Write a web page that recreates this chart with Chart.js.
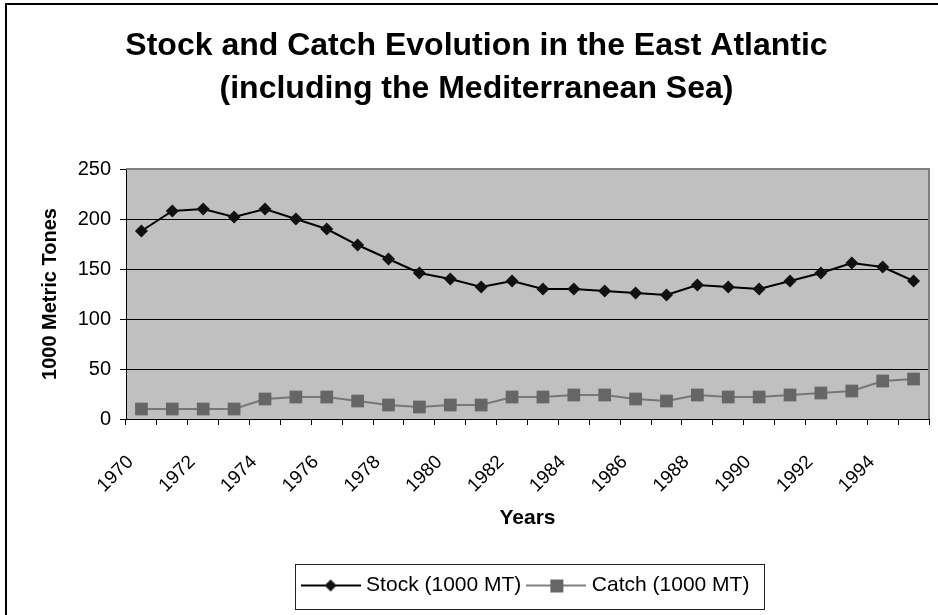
<!DOCTYPE html>
<html>
<head>
<meta charset="utf-8">
<script src="https://cdn.jsdelivr.net/npm/chart.js@4/dist/chart.umd.min.js"></script>
<style>
  html, body { margin: 0; padding: 0; background: #fff; }
  #wrap { width: 938px; height: 615px; }
</style>
</head>
<body>
<div id="wrap"><canvas id="stockChart" width="938" height="615"></canvas></div>
<script>
const years = ["1970", "1971", "1972", "1973", "1974", "1975", "1976", "1977", "1978", "1979",
  "1980", "1981", "1982", "1983", "1984", "1985", "1986", "1987", "1988", "1989",
  "1990", "1991", "1992", "1993", "1994", "1995"];
const stockValues = [188, 208, 210, 202, 210, 200, 190, 174, 160, 146, 140, 132, 138, 130, 130,
  128, 126, 124, 134, 132, 130, 138, 146, 156, 152, 138];
const catchValues = [10, 10, 10, 10, 20, 22, 22, 18, 14, 12, 14, 14, 22, 22, 24,
  24, 20, 18, 24, 22, 22, 24, 26, 28, 38, 40];
const yTicks = [0, 50, 100, 150, 200, 250];

const FONT = "'Liberation Sans', Arial, sans-serif";

// legend symbol: a short line with the marker in the middle
function legendSymbol(kind, color, lineColor) {
  const c = document.createElement("canvas");
  c.width = 60; c.height = 16;
  const g = c.getContext("2d");
  g.strokeStyle = lineColor;
  g.lineWidth = 2;
  g.beginPath(); g.moveTo(0, 8); g.lineTo(60, 8); g.stroke();
  g.fillStyle = color;
  if (kind === "diamond") {
    g.beginPath(); g.moveTo(30, 2); g.lineTo(36, 8); g.lineTo(30, 14); g.lineTo(24, 8); g.closePath(); g.fill();
  } else {
    g.fillRect(24, 2, 13, 13);
  }
  return c;
}

const plotBackground = {
  id: "plotBackground",
  beforeDraw(chart) {
    const ctx = chart.ctx;
    const a = chart.chartArea;
    ctx.save();
    ctx.fillStyle = "#fff";
    ctx.fillRect(0, 0, chart.width, chart.height);
    ctx.fillStyle = "#c0c0c0";
    ctx.fillRect(a.left, a.top, a.right - a.left, a.bottom - a.top);
    ctx.restore();
  },
  afterDraw(chart) {
    const ctx = chart.ctx;
    const a = chart.chartArea;
    ctx.save();
    // grey border of plot area (top and right)
    ctx.strokeStyle = "#808080";
    ctx.lineWidth = 2;
    ctx.beginPath();
    ctx.moveTo(a.left, a.top); ctx.lineTo(a.right, a.top); ctx.lineTo(a.right, a.bottom);
    ctx.stroke();
    // outer frame (only left and top edges are inside the picture)
    ctx.strokeStyle = "#000";
    ctx.lineWidth = 2;
    ctx.beginPath();
    ctx.moveTo(6, chart.height); ctx.lineTo(6, 4); ctx.lineTo(chart.width, 4);
    ctx.stroke();
    // legend frame
    const boxes = chart.legend.legendHitBoxes;
    if (boxes && boxes.length) {
      let x0 = Infinity, x1 = -Infinity, y0 = Infinity, y1 = -Infinity;
      boxes.forEach(b => {
        x0 = Math.min(x0, b.left); x1 = Math.max(x1, b.left + b.width);
        y0 = Math.min(y0, b.top); y1 = Math.max(y1, b.top + b.height);
      });
      const cy = (y0 + y1) / 2;
      ctx.strokeStyle = "#222";
      ctx.lineWidth = 1;
      ctx.strokeRect(Math.round(x0 - 11) + 0.5, Math.round(cy - 22) + 0.5, Math.round(x1 - x0 + 25), 45);
    }
    ctx.restore();
  }
};

new Chart(document.getElementById("stockChart"), {
  type: "line",
  data: {
    labels: years,
    datasets: [
      {
        label: "Stock (1000 MT)",
        data: stockValues,
        borderColor: "#000",
        backgroundColor: "#000",
        borderWidth: 2,
        pointStyle: "rectRot",
        pointRadius: 6.5,
        pointBackgroundColor: "#111",
        pointBorderColor: "#111",
        pointBorderWidth: 0,
        tension: 0
      },
      {
        label: "Catch (1000 MT)",
        data: catchValues,
        borderColor: "#777777",
        backgroundColor: "#666666",
        borderWidth: 2,
        pointStyle: "rect",
        pointRadius: 9,
        pointBackgroundColor: "#666666",
        pointBorderColor: "#666666",
        pointBorderWidth: 0,
        tension: 0
      }
    ]
  },
  options: {
    responsive: false,
    animation: false,
    devicePixelRatio: 1,
    layout: { padding: { left: 24, right: 9, top: 0, bottom: 9 } },
    plugins: {
      title: {
        display: true,
        text: ["Stock and Catch Evolution in the East Atlantic", "(including the Mediterranean Sea)"],
        color: "#000",
        font: { family: FONT, size: 32, weight: "bold", lineHeight: 1.36 },
        padding: { top: 24, bottom: 58 }
      },
      legend: {
        position: "bottom",
        fullSize: false,
        labels: {
          color: "#000",
          font: { family: FONT, size: 21 },
          usePointStyle: true,
          pointStyleWidth: 50,
          padding: 10,
          generateLabels(chart) {
            return [
              { text: "Stock (1000 MT)", pointStyle: legendSymbol("diamond", "#111", "#000"), datasetIndex: 0, lineWidth: 0, strokeStyle: "transparent", fillStyle: "transparent", fontColor: "#000" },
              { text: "Catch (1000 MT)", pointStyle: legendSymbol("square", "#666666", "#808080"), datasetIndex: 1, lineWidth: 0, strokeStyle: "transparent", fillStyle: "transparent", fontColor: "#000" }
            ];
          }
        }
      },
      tooltip: { enabled: false }
    },
    scales: {
      x: {
        type: "category",
        offset: true,
        afterFit(scale) {
          scale.height = 146;
          scale.paddingLeft = 0;
          scale.paddingRight = 0;
        },
        grid: {
          offset: true,
          drawOnChartArea: false,
          drawTicks: true,
          tickLength: 6,
          color: "#000"
        },
        border: { color: "#000", width: 1 },
        ticks: {
          autoSkip: false,
          maxRotation: 45,
          minRotation: 45,
          color: "#000",
          font: { family: FONT, size: 19 },
          padding: 26,
          labelOffset: -11,
          callback(value, index) { return index % 2 === 0 ? years[index] : ""; }
        },
        title: {
          display: true,
          text: "Years",
          color: "#000",
          font: { family: FONT, size: 21, weight: "bold" },
          padding: { top: 0, bottom: 34 }
        }
      },
      y: {
        min: 0,
        max: 250,
        afterFit(scale) { scale.width = 102; },
        afterBuildTicks(scale) { scale.ticks = yTicks.map(v => ({ value: v })); },
        grid: {
          color: "#000",
          lineWidth: 1,
          drawTicks: true,
          tickLength: 6
        },
        border: { color: "#000", width: 1 },
        ticks: {
          color: "#000",
          font: { family: FONT, size: 20 },
          padding: 9
        },
        title: {
          display: true,
          text: "1000 Metric Tones",
          color: "#000",
          font: { family: FONT, size: 20, weight: "bold" },
          padding: { top: 14, bottom: 0 }
        }
      }
    }
  },
  plugins: [plotBackground]
});
</script>
</body>
</html>
